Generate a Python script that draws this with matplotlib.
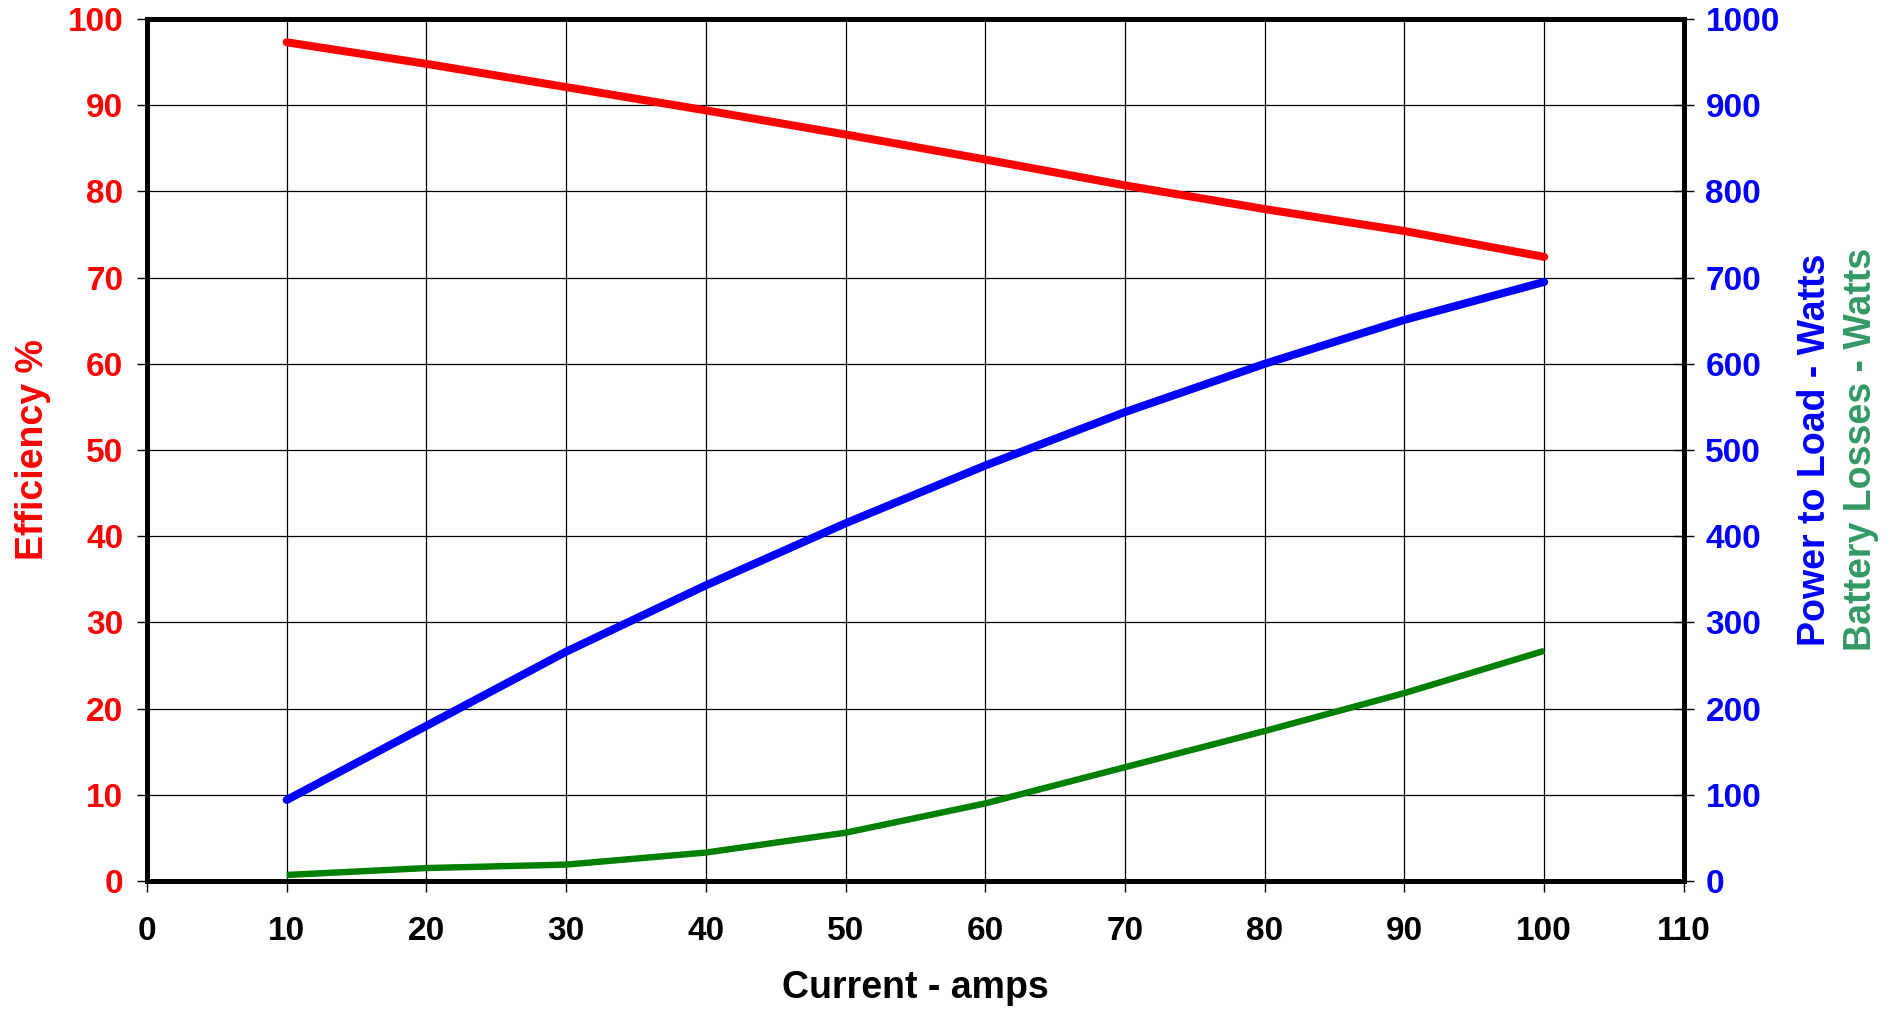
import matplotlib
matplotlib.use("Agg")
import matplotlib.pyplot as plt
import numpy as np

plt.rcParams['font.family'] = ['Liberation Sans', 'DejaVu Sans']
plt.rcParams['font.weight'] = 'bold'

# valeurs
current = [10, 20, 30, 40, 50, 60, 70, 80, 90, 100]
efficiency = [97.3, 94.8, 92.1, 89.4, 86.6, 83.7, 80.7, 77.95, 75.4, 72.4]
power_load = [94, 180, 266, 343, 415, 482, 544, 600, 651, 695]
battery_loss = [7, 15, 19, 33, 56, 90, 132, 174, 218, 267]

x_ticks = np.arange(0, 111, 10)
eff_ticks = np.arange(0, 101, 10)
watt_ticks = np.arange(0, 1001, 100)

fig = plt.figure(figsize=(19.01, 10.11), dpi=100)
ax = fig.add_axes([0.0773, 0.1286, 0.8085, 0.8526])
ax2 = ax.twinx()

ax.plot(current, efficiency, color='#FF0000', lw=5.8, solid_capstyle='round',
        solid_joinstyle='round', zorder=3)
ax2.plot(current, power_load, color='#0000FF', lw=5.8, solid_capstyle='round',
         solid_joinstyle='round', zorder=3)
ax2.plot(current, battery_loss, color='#008000', lw=4.6, solid_capstyle='butt',
         solid_joinstyle='round', zorder=3)

ax.set_xlim(0, 110)
ax.set_ylim(0, 100)
ax2.set_ylim(0, 1000)
ax.set_xticks(x_ticks)
ax.set_yticks(eff_ticks)
ax2.set_yticks(watt_ticks)

ax.grid(True, color='black', lw=0.9)
ax.set_axisbelow(True)

for a in (ax, ax2):
    for s in a.spines.values():
        s.set_linewidth(3.6)
        s.set_color('black')

ax.tick_params(axis='x', direction='out', length=8, width=1, pad=17,
               labelsize=24, labelcolor='black')
ax.tick_params(axis='y', direction='out', length=7, width=1, pad=10,
               labelsize=24, labelcolor='#FF0000')
ax2.tick_params(axis='y', direction='inout', length=15, width=1, pad=8,
                labelsize=24, labelcolor='#0000FF')
for lab in ax.get_xticklabels() + ax.get_yticklabels() + ax2.get_yticklabels():
    lab.set_fontweight('bold')

fig.text(0.4815, 0.0227, 'Current - amps', ha='center', va='center',
         fontsize=27, fontweight='bold', color='black')
fig.text(0.0174, 0.555, 'Efficiency %', ha='center', va='center', rotation=90,
         fontsize=27, fontweight='bold', color='#FF0000')
fig.text(0.9548, 0.555, 'Power to Load - Watts', ha='center', va='center', rotation=90,
         fontsize=27, fontweight='bold', color='#0000FF')
fig.text(0.979, 0.555, 'Battery Losses - Watts', ha='center', va='center', rotation=90,
         fontsize=27, fontweight='bold', color='#339966')

fig.savefig('out.png', dpi=100)
